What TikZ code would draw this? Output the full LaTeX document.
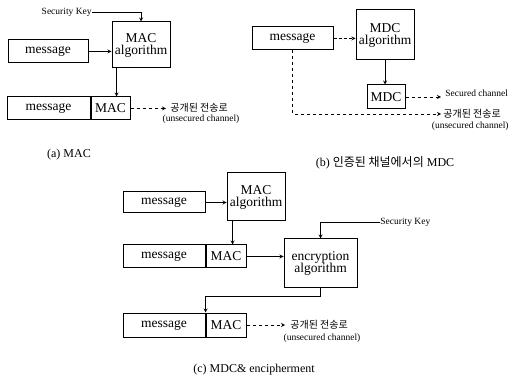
\documentclass[tikz,border=0pt]{standalone}
\usepackage{fontspec}
\setmainfont{Liberation Serif}
\newfontfamily\kor{Noto Sans CJK KR}
\begin{document}
\begin{tikzpicture}[x=1pt,y=-1pt,>=stealth,line width=0.8pt,
    box/.style={draw,line width=1pt,inner sep=0pt,align=center,font=\fontsize{13.5}{14}\selectfont},
    lab/.style={inner sep=0pt,font=\fontsize{9.5}{10}\selectfont},
    korlab/.style={inner sep=0pt,font=\kor\fontsize{10}{11}\selectfont},
    captext/.style={inner sep=0pt,font=\fontsize{12}{13}\selectfont},
    chan/.style={->,dash pattern=on 3pt off 3pt}]
    \useasboundingbox (0,0) rectangle (511,379);
    % (a) MAC
    \node[box,minimum width=58,minimum height=46] (algA) at (141,45) {MAC\\[-2pt]algorithm};
    \node[box,minimum width=80,minimum height=23] (msgA) at (48,51.5) {message};
    \node[box,minimum width=83,minimum height=23] (msgA2) at (48.5,108.5) {message};
    \node[box,minimum width=39,minimum height=23,anchor=west] (macA) at (msgA2.east) {MAC};
    \node[lab,anchor=east] (keyA) at (92,12) {Security Key};
    \node[korlab,anchor=west] (korA) at (170,108) {공개된 전송로};
    \node[lab] (engA) at (201,119) {(unsecured channel)};
    \draw[->] (keyA.east) -| (algA.north);
    \draw[->] (msgA.east) -- (msgA.east -| algA.west);
    \draw[->] ([xshift=5pt]algA.south west) coordinate (a1) -- (a1 |- macA.north);
    \draw[chan] (macA.east) -- ([xshift=-4pt]macA.east -| korA.west);
    \node[captext] (capA) at (69,155) {(a) MAC};
    % (b) MDC
    \node[box,minimum width=58,minimum height=50] (algB) at (385,35) {MDC\\[-2pt]algorithm};
    \node[box,minimum width=81,minimum height=23] (msgB) at (292.5,38.5) {message};
    \node[box,minimum width=38,minimum height=24] (mdcB) at (386,97) {MDC};
    \node[lab,anchor=west] (secB) at (445,93) {Secured channel};
    \node[korlab,anchor=west] (korB) at (443,114) {공개된 전송로};
    \node[lab,anchor=east] (engB) at (509,126) {(unsecured channel)};
    \draw[->,densely dashed] (msgB.east) -- (msgB.east -| algB.west);
    \draw[->] (algB.south) -- (algB.south |- mdcB.north);
    \draw[chan] (mdcB.east) -- ([xshift=-4pt]mdcB.east -| secB.west);
    \draw[chan] (msgB.south) |- ([xshift=-2pt]korB.west);
    \node[captext] (capB) at (385,163) {(b) {\kor 인증된 채널에서의} MDC};
    % (c) MDC & encipherment
    \node[box,minimum width=58,minimum height=48] (algC) at (256,197) {MAC\\[-2pt]algorithm};
    \node[box,minimum width=82,minimum height=21] (msgC) at (164,202.5) {message};
    \node[box,minimum width=82,minimum height=23] (msgC2) at (164,256.5) {message};
    \node[box,minimum width=40,minimum height=23,anchor=west] (macC2) at (msgC2.east) {MAC};
    \node[box,minimum width=73,minimum height=48] (encC) at (320.5,263) {encryption\\[-2pt]algorithm};
    \node[box,minimum width=82,minimum height=24] (msgC3) at (164,325) {message};
    \node[box,minimum width=40,minimum height=24,anchor=west] (macC3) at (msgC3.east) {MAC};
    \node[lab,anchor=west] (keyC) at (380,222) {Security Key};
    \node[korlab,anchor=west] (korC) at (290,325) {공개된 전송로};
    \node[lab] (engC) at (322,338) {(unsecured channel)};
    \draw[->] (msgC.east) -- (msgC.east -| algC.west);
    \draw[->] ([xshift=6pt]algC.south west) coordinate (c1) -- (c1 |- macC2.north);
    \draw[->] (macC2.east) -- (macC2.east -| encC.west);
    \draw[->] (keyC.west) -| (encC.north);
    \draw[->] (encC.south) -- ++(0,9) -| (macC3.north west);
    \draw[chan] (macC3.east) -- ([xshift=-5pt]macC3.east -| korC.west);
    \node[captext] (capC) at (254,370) {(c) MDC\& encipherment};
\end{tikzpicture}
\end{document}
